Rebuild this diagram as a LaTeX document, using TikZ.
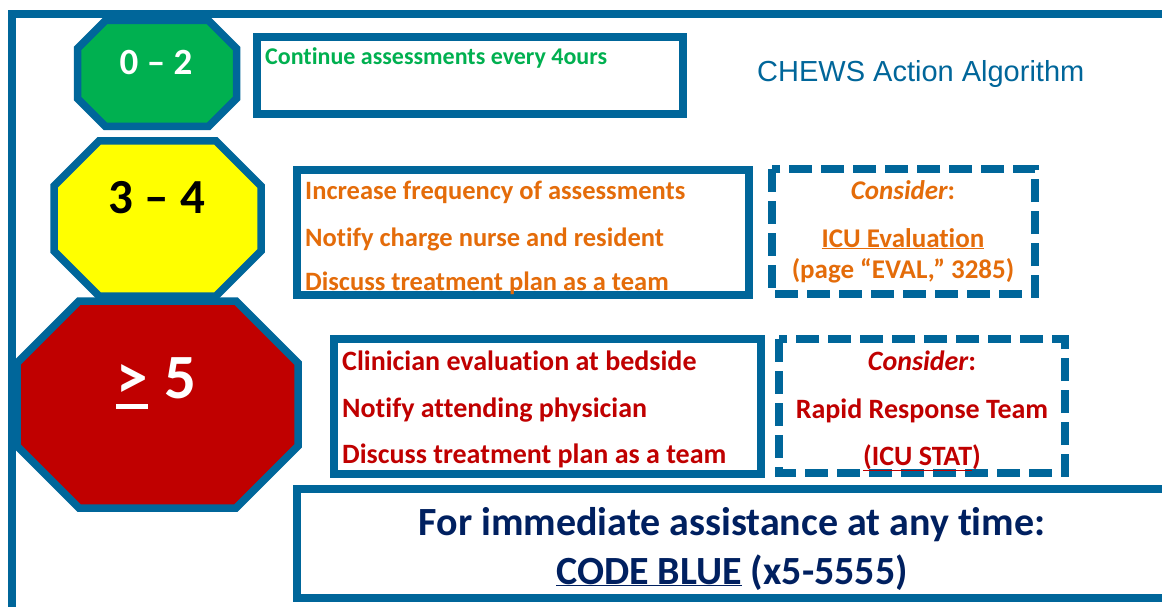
\documentclass[tikz,border=0pt]{standalone}
\usepackage{fontspec}
\setmainfont{Carlito}[Ligatures=CommonOff]
\newfontfamily\titlefont{Liberation Sans}
\definecolor{frameblue}{RGB}{0,102,154}
\definecolor{gogreen}{RGB}{0,176,80}
\definecolor{goyellow}{RGB}{255,255,0}
\definecolor{gored}{RGB}{192,0,0}
\definecolor{txtorange}{RGB}{228,108,10}
\definecolor{txtred}{RGB}{192,0,0}
\definecolor{txtnavy}{RGB}{0,32,96}
\newcommand\fsz[1]{\fontsize{#1}{#1}\selectfont}
\newcommand\myocta[6]{%
  \fill[gray!65] ({#1+#5+1},{#2+3}) -- ({#3-#5+1},{#2+3}) -- ({#3+1},{#2+#5+3}) -- ({#3+1},{#4-#5+3}) -- ({#3-#5+1},{#4+3}) -- ({#1+#5+1},{#4+3}) -- ({#1+1},{#4-#5+3}) -- ({#1+1},{#2+#5+3}) -- cycle;
  \draw[octaline, fill=#6] ({#1+#5},{#2}) -- ({#3-#5},{#2}) -- ({#3},{#2+#5}) -- ({#3},{#4-#5}) -- ({#3-#5},{#4}) -- ({#1+#5},{#4}) -- ({#1},{#4-#5}) -- ({#1},{#2+#5}) -- cycle;}
\begin{document}
\begin{tikzpicture}[x=1pt,y=-1pt,
  octaline/.style={draw=frameblue, line width=7.5pt, line join=miter},
  solidbox/.style={draw=frameblue, line width=7.5pt, line join=miter},
  dashbox/.style={draw=frameblue, line width=7.5pt, dash pattern=on 23pt off 9pt},
  orangetxt/.style={anchor=base west, inner sep=0pt, text=txtorange, font=\fsz{26.5}\bfseries},
  redtxt/.style={anchor=base west, inner sep=0pt, text=txtred, font=\fsz{28}\bfseries},
  orangectr/.style={anchor=base, inner sep=0pt, text=txtorange, font=\fsz{27}\bfseries},
  redctr/.style={anchor=base, inner sep=0pt, text=txtred, font=\fsz{28}\bfseries},
  codetxt/.style={anchor=base, inner sep=0pt, text=txtnavy, font=\fsz{40}\bfseries}]
\useasboundingbox (0,0) rectangle (1162,607);
\begin{scope}
\clip (0,0) rectangle (1162,607);
\fill[white] (0,0) rectangle (1162,607);
% outer frame (right and bottom sides lie outside the picture)
\draw[solidbox] (12,620) -- (12,14) -- (1170,14);
% octagons (red first, then yellow, then green on top)
\myocta{17}{301}{298}{508}{62}{gored}
\myocta{54}{141}{261}{296}{45}{goyellow}
\myocta{77.5}{20.5}{236.5}{126.5}{28}{gogreen}
\node[inner sep=0pt, text=white, font=\fsz{37}\bfseries] (s02) at (156,62) {0 – 2};
\node[inner sep=0pt, text=black, font=\fsz{49}\bfseries] (s34) at (157,198) {3 – 4};
\node[anchor=base west, inner sep=0pt, text=white, font=\fsz{63}\bfseries] (gt) at (116,398) {>};
\node[anchor=base west, inner sep=0pt, text=white, font=\fsz{63}\bfseries] (five) at (164,398) {5};
\draw[white, line width=5pt] ([shift={(0,8.5)}]gt.base west) -- ([shift={(0,8.5)}]gt.base east);
% title
\node[anchor=base west, inner sep=0pt, text=frameblue, font=\titlefont\fsz{29}] (title) at (757,82) {CHEWS Action Algorithm};
% green box
\draw[solidbox] (257,37) rectangle (683,114);
\node[anchor=base west, inner sep=0pt, text=gogreen, font=\fsz{24}\bfseries] (g1) at (265,65) {Continue assessments every 4ours};
% orange box
\draw[solidbox] (297,170) rectangle (749,295);
\node[orangetxt] (o1) at (305,200) {Increase frequency of assessments};
\node[orangetxt] (o2) at (305,246) {Notify charge nurse and resident};
\node[orangetxt] (o3) at (305,290) {Discuss treatment plan as a team};
% orange dashed box
\draw[dashbox] (772,169) rectangle (1035,294);
\node[orangectr] (oc1) at (903,200) {{\itshape Consider}:};
\node[orangectr] (oc2) at (903,247) {\underline{ICU Evaluation}};
\node[orangectr] (oc3) at (903,278) {(page “EVAL,” 3285)};
% red box
\draw[solidbox] (334,339) rectangle (761,474);
\node[redtxt] (r1) at (342,370) {Clinician evaluation at bedside};
\node[redtxt] (r2) at (342,417) {Notify attending physician};
\node[redtxt] (r3) at (342,463) {Discuss treatment plan as a team};
% red dashed box
\draw[dashbox] (779,339) rectangle (1065,473);
\node[redctr] (rc1) at (922,370) {{\itshape Consider}:};
\node[redctr] (rc2) at (922,418) {Rapid Response Team};
\node[redctr] (rc3) at (922,465) {\underline{(ICU STAT})};
% code blue box (right side lies outside the picture)
\draw[solidbox] (1170,489) -- (297,489) -- (297,598) -- (1170,598);
\node[codetxt] (c1) at (732,535) {For immediate assistance at any time:};
\node[codetxt] (c2) at (732,584) {\underline{CODE BLUE} (x5-5555)};
\end{scope}
\end{tikzpicture}
\end{document}
